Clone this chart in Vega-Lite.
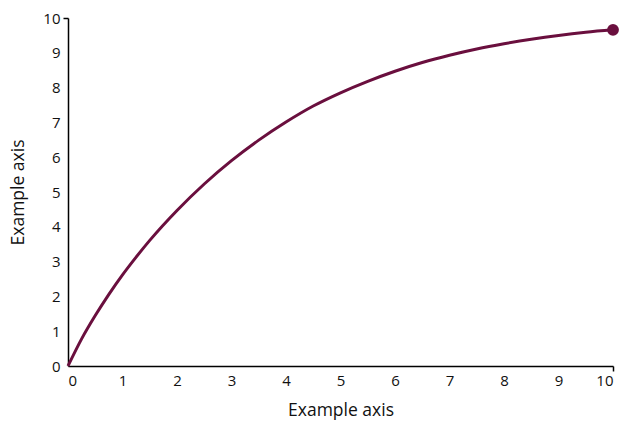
{
  "$schema": "https://vega.github.io/schema/vega-lite/v6.json",
  "autosize": "none",
  "width": 545,
  "height": 348,
  "padding": {"left": 68, "top": 18, "right": 10, "bottom": 55},
  "background": "white",
  "config": {
    "view": {"stroke": null},
    "font": "Open Sans",
    "axis": {
      "labelFont": "Open Sans",
      "titleFont": "Open Sans",
      "labelFontSize": 15,
      "titleFontSize": 17.5,
      "titleFontWeight": "normal",
      "labelColor": "#111",
      "titleColor": "#111",
      "domainColor": "#000",
      "domainWidth": 1.5,
      "tickColor": "#000",
      "tickWidth": 1.5,
      "tickSize": 5,
      "grid": false
    }
  },
  "data": {
    "values": [
      {"x": 0, "y": 0},
      {"x": 0.25, "y": 0.78},
      {"x": 0.5, "y": 1.45},
      {"x": 0.75, "y": 2.06},
      {"x": 1, "y": 2.62},
      {"x": 1.25, "y": 3.13},
      {"x": 1.5, "y": 3.61},
      {"x": 2, "y": 4.47},
      {"x": 2.5, "y": 5.23},
      {"x": 3, "y": 5.9},
      {"x": 3.5, "y": 6.49},
      {"x": 4, "y": 7.01},
      {"x": 4.5, "y": 7.47},
      {"x": 5, "y": 7.85},
      {"x": 5.5, "y": 8.18},
      {"x": 6, "y": 8.47},
      {"x": 6.5, "y": 8.72},
      {"x": 7, "y": 8.93},
      {"x": 7.5, "y": 9.11},
      {"x": 8, "y": 9.26},
      {"x": 8.5, "y": 9.39},
      {"x": 9, "y": 9.5},
      {"x": 9.5, "y": 9.59},
      {"x": 10, "y": 9.66}
    ]
  },
  "encoding": {
    "x": {
      "field": "x",
      "type": "quantitative",
      "scale": {"domain": [0, 10], "nice": false},
      "axis": {
        "title": "Example axis",
        "values": [0, 1, 2, 3, 4, 5, 6, 7, 8, 9, 10],
        "labelPadding": 2,
        "titlePadding": 13,
        "tickOpacity": {"condition": {"test": "datum.value == 10", "value": 1}, "value": 0}
      }
    },
    "y": {
      "field": "y",
      "type": "quantitative",
      "scale": {"domain": [0, 10], "nice": false},
      "axis": {
        "title": "Example axis",
        "values": [0, 1, 2, 3, 4, 5, 6, 7, 8, 9, 10],
        "labelPadding": 3,
        "titlePadding": 15,
        "tickOpacity": {"condition": {"test": "datum.value == 10", "value": 1}, "value": 0}
      }
    }
  },
  "layer": [
    {
      "mark": {"type": "line", "color": "#6a0f3e", "strokeWidth": 3, "interpolate": "monotone"}
    },
    {
      "transform": [{"filter": "datum.x == 10"}],
      "mark": {"type": "circle", "color": "#6a0f3e", "size": 140, "opacity": 1}
    }
  ]
}
